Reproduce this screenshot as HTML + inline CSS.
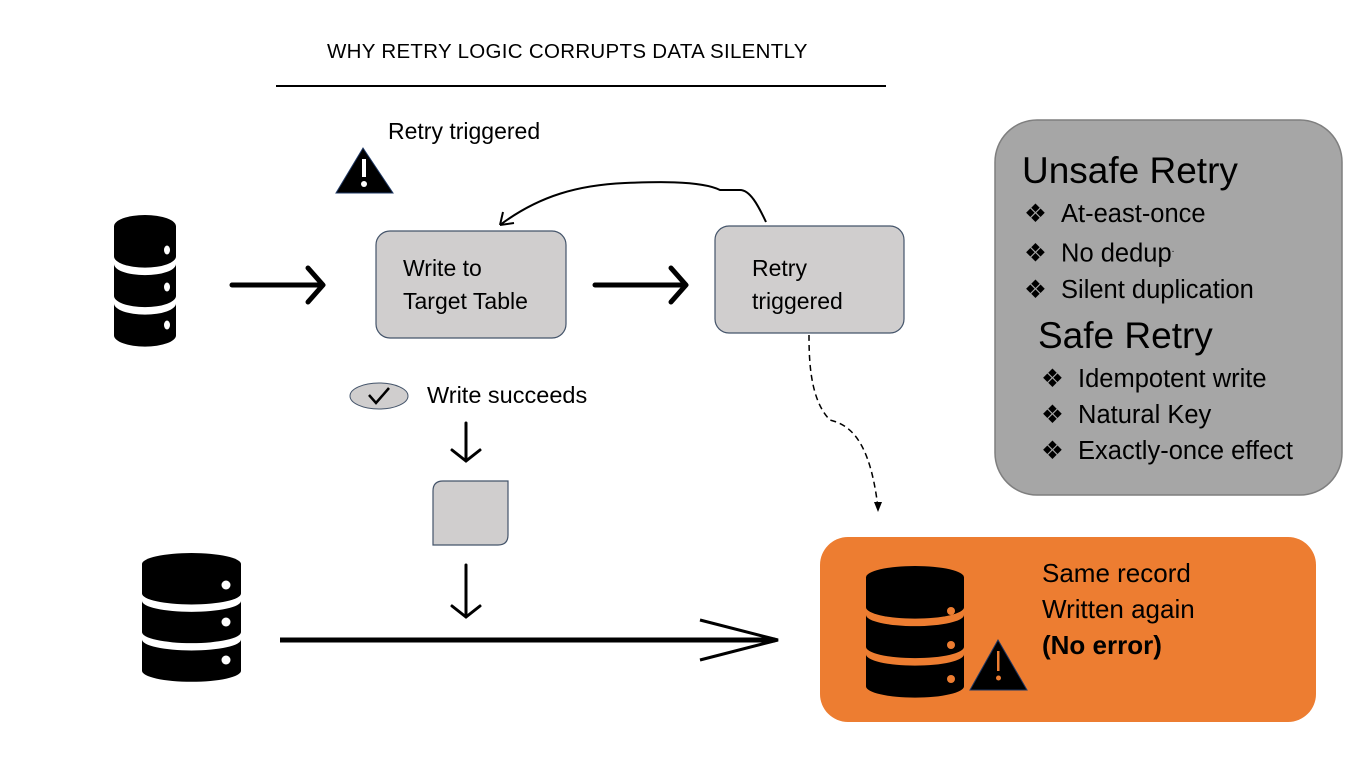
<!DOCTYPE html>
<html><head><meta charset="utf-8"><style>
body{margin:0;width:1372px;height:758px;background:#fff;overflow:hidden;position:relative;font-family:"Liberation Sans",sans-serif;color:#000}
.t{position:absolute;white-space:nowrap}
</style></head><body>
<svg width="1372" height="758" style="position:absolute;left:0;top:0">
<defs>
<g id="db">
<path d="M0,12 A50,12 0 0 1 100,12 L100,44 A50,12 0 0 1 0,44 Z" fill="#000"/>
<path d="M0,52 A50,12 0 0 0 100,52 L100,86 A50,12 0 0 1 0,86 Z" fill="#000"/>
<path d="M0,94 A50,12 0 0 0 100,94 L100,128 A50,12 0 0 1 0,128 Z" fill="#000"/>
</g>
</defs>
<line x1="276" y1="86" x2="886" y2="86" stroke="#000" stroke-width="2"/>
<path d="M363,148 L393,193 L336,193 Z" fill="#000" stroke="#1f3864" stroke-width="1"/>
<rect x="362" y="159" width="4" height="18" fill="#fff"/>
<circle cx="364" cy="184" r="3" fill="#fff"/>
<!-- DB1 -->
<g transform="translate(114,215) scale(0.62,0.94)"><use href="#db"/></g>
<g fill="#fff"><ellipse cx="167" cy="250" rx="3" ry="4.5"/><ellipse cx="167" cy="287" rx="3" ry="4.5"/><ellipse cx="167" cy="325" rx="3" ry="4.5"/></g>
<!-- DB2 -->
<g transform="translate(142,553) scale(0.99,0.92)"><use href="#db"/></g>
<g fill="#fff"><circle cx="226" cy="585" r="4.5"/><circle cx="226" cy="622" r="4.5"/><circle cx="226" cy="660" r="4.5"/></g>
<!-- orange box -->
<rect x="820" y="537" width="496" height="185" rx="28" fill="#ED7D31"/>
<g transform="translate(866,566) scale(0.98,0.94)"><use href="#db"/></g>
<g fill="#ED7D31"><circle cx="951" cy="611" r="4"/><circle cx="951" cy="645" r="4"/><circle cx="951" cy="679" r="4"/></g>
<path d="M998,640 L1027,690 L970,690 Z" fill="#000" stroke="#1f3864" stroke-width="1"/>
<rect x="997" y="651" width="2.5" height="20" fill="#ED7D31"/>
<circle cx="998.5" cy="678" r="2.5" fill="#ED7D31"/>
<!-- grey box -->
<rect x="995" y="120" width="347" height="375" rx="42" fill="#a6a6a6" stroke="#7f7f7f" stroke-width="1.5"/>
<rect x="376" y="231" width="190" height="107" rx="14" fill="#d0cece" stroke="#44546a" stroke-width="1.2"/>
<rect x="715" y="226" width="189" height="107" rx="14" fill="#d0cece" stroke="#44546a" stroke-width="1.2"/>
<path d="M443,481 h65 v54 q0,10 -10,10 h-65 v-54 q0,-10 10,-10 z" fill="#d0cece" stroke="#44546a" stroke-width="1.2"/>
<g stroke="#000" stroke-width="5" fill="none" stroke-linecap="round" stroke-linejoin="round">
<line x1="232" y1="285" x2="322" y2="285"/><path d="M308,268 L323,285 L308,302"/>
<line x1="595" y1="285" x2="685" y2="285"/><path d="M671,268 L686,285 L671,302"/>
</g>
<g stroke="#000" stroke-width="3" fill="none" stroke-linecap="round">
<line x1="466" y1="423" x2="466" y2="460"/><path d="M452,450 L466,461 L480,450"/>
<line x1="466" y1="565" x2="466" y2="616"/><path d="M452,606 L466,617 L480,606"/>
</g>
<path d="M280,640 L775,640" stroke="#000" stroke-width="5"/>
<path d="M700,620 L778,640 L700,660" stroke="#000" stroke-width="3" fill="none"/>
<path d="M766,222 C758,205 750,190 740,190 L720,190 C700,180 650,182 625,183 C580,185 540,195 500,225" stroke="#000" stroke-width="2" fill="none"/>
<path d="M500,225 L514,223" stroke="#000" stroke-width="2"/><path d="M500,225 L503,212" stroke="#000" stroke-width="2"/>
<path d="M809,335 C809,360 810,400 830,420 C850,425 870,440 878,508" stroke="#000" stroke-width="1.5" stroke-dasharray="6,4" fill="none"/>
<path d="M874,502 L878,512 L882,502 Z" fill="#000"/>
<ellipse cx="379" cy="396" rx="29" ry="13" fill="#d0cece" stroke="#44546a" stroke-width="1"/>
<path d="M369,395 L376,403 L389,388" stroke="#000" stroke-width="2.5" fill="none"/>
</svg>
<div class="t" style="left:327px;top:40px;font-size:20.5px;letter-spacing:0.3px">WHY RETRY LOGIC CORRUPTS DATA SILENTLY</div>
<div class="t" style="left:388px;top:118px;font-size:23px">Retry triggered</div>
<div class="t" style="left:403px;top:252px;font-size:23px;line-height:33px">Write to<br>Target Table</div>
<div class="t" style="left:752px;top:252px;font-size:23px;line-height:33px">Retry<br>triggered</div>
<div class="t" style="left:427px;top:382px;font-size:23.5px">Write succeeds</div>
<div class="t" style="left:1042px;top:555px;font-size:26px;line-height:36px">Same record<br>Written again<br><b>(No error)</b></div>
<div class="t" style="left:1022px;top:150px;font-size:37px">Unsafe Retry</div>
<div class="t" style="left:1024px;top:196px;font-size:25.5px;line-height:36px">❖ &nbsp;At-east-once<br>❖ &nbsp;No dedup<sup style="font-size:10px">.</sup><br>❖ &nbsp;Silent duplication</div>
<div class="t" style="left:1038px;top:315px;font-size:37px">Safe Retry</div>
<div class="t" style="left:1041px;top:361px;font-size:25.5px;line-height:36px">❖ &nbsp;Idempotent write<br>❖ &nbsp;Natural Key<br>❖ &nbsp;Exactly-once effect</div>
</body></html>
